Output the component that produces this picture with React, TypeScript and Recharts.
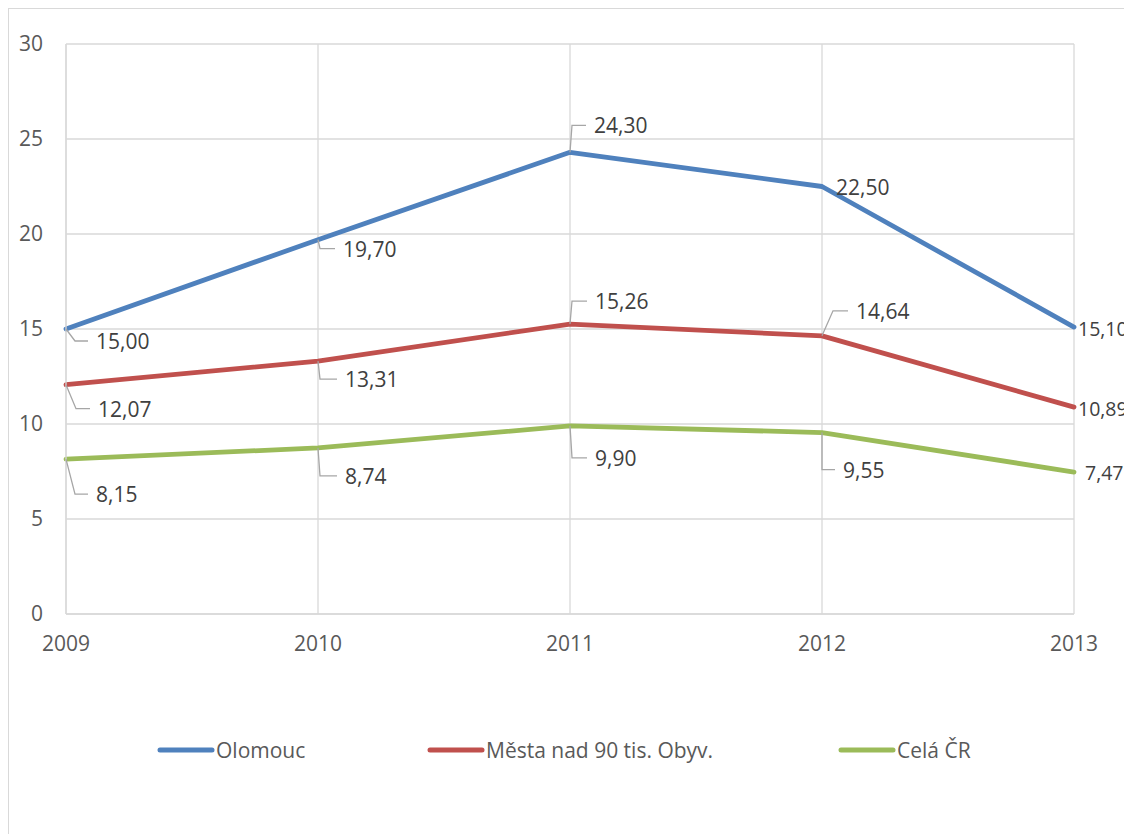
import { CartesianGrid, Line, LineChart, XAxis, YAxis } from "recharts";

const years = ["2009", "2010", "2011", "2012", "2013"];
const olomouc = [15.0, 19.7, 24.3, 22.5, 15.1];
const mesta = [12.07, 13.31, 15.26, 14.64, 10.89];
const celaCR = [8.15, 8.74, 9.9, 9.55, 7.47];
const yTicks = [0, 5, 10, 15, 20, 25, 30];

const SERIES = [
  { key: "olomouc", name: "Olomouc", color: "#4f81bd", values: olomouc },
  { key: "mesta", name: "Města nad 90 tis. Obyv.", color: "#c0504d", values: mesta },
  { key: "cela", name: "Celá ČR", color: "#9bbb59", values: celaCR },
];

// label placement per point: [dx, dy, elbowDx] ; elbowDx null = no leader line
const LABEL_POS: [number, number, number | null][][] = [
  [[30, 12, 9], [25, 9, 2], [24, -27, 2], [14, 0, null], [4, 1, null]],
  [[32, 24, 10], [27, 18, 2], [25, -23, 2], [34, -25, 11], [4, 1, null]],
  [[30, 35, 9], [27, 28, 2], [25, 32, 2], [21, 37, 0], [11, 0, null]],
];

const data = years.map((y, i) => ({
  year: y,
  olomouc: olomouc[i],
  mesta: mesta[i],
  cela: celaCR[i],
}));

const FONT = "'Open Sans', sans-serif";

const fmt = (v: number) => v.toFixed(2).replace(".", ",");

function makeLabel(si: number) {
  return (p: any) => {
    const { x, y, value, index } = p;
    const [dx, dy, elbow] = LABEL_POS[si][index];
    const tx = x + dx;
    const ty = y + dy;
    // last column sits at the chart edge, keep it a touch smaller so it fits
    const size = index === years.length - 1 ? 19.5 : 21;
    return (
      <g key={`lbl-${si}-${index}`}>
        {elbow !== null && (
          <polyline
            points={`${x},${y} ${x + elbow},${ty} ${tx - 8},${ty}`}
            fill="none"
            stroke="#a6a6a6"
            strokeWidth={1.3}
          />
        )}
        <text
          x={tx}
          y={ty}
          dominantBaseline="central"
          fontSize={size}
          fontFamily={FONT}
          fill="#404040"
        >
          {fmt(value)}
        </text>
      </g>
    );
  };
}

const LEGEND_X = [157, 427, 838];

export default function App() {
  return (
    <div style={{ position: "relative", width: 1124, height: 826, overflow: "hidden", fontFamily: FONT }}>
      <div
        style={{
          position: "absolute",
          left: 0,
          top: 0,
          width: 1200,
          height: 900,
          border: "1px solid #d9d9d9",
        }}
      />
      <div style={{ position: "absolute", left: 0, top: 0 }}>
        <LineChart
          width={1124}
          height={826}
          data={data}
          margin={{ top: 36, right: 58, left: 8, bottom: 180 }}
        >
          <CartesianGrid stroke="#d9d9d9" strokeWidth={1.3} />
          <XAxis
            dataKey="year"
            height={40}
            tickLine={false}
            tickSize={0}
            tickMargin={22}
            axisLine={{ stroke: "#d9d9d9", strokeWidth: 1.3 }}
            tick={{ fontSize: 21, fill: "#595959", fontFamily: FONT }}
            interval={0}
          />
          <YAxis
            width={50}
            domain={[0, 30]}
            ticks={yTicks}
            tickLine={false}
            tickSize={0}
            tickMargin={23}
            axisLine={{ stroke: "#d9d9d9", strokeWidth: 1.3 }}
            tick={{ fontSize: 21, fill: "#595959", fontFamily: FONT }}
          />
          {SERIES.map((s, si) => (
            <Line
              key={s.key}
              dataKey={s.key}
              name={s.name}
              type="linear"
              stroke={s.color}
              strokeWidth={4.8}
              strokeLinecap="round"
              strokeLinejoin="round"
              dot={false}
              activeDot={false}
              isAnimationActive={false}
              label={makeLabel(si)}
            />
          ))}
        </LineChart>
      </div>
      {SERIES.map((s, i) => (
        <div
          key={s.key}
          style={{
            position: "absolute",
            left: LEGEND_X[i] - 8,
            top: 750 - 8 - 15,
            height: 30,
            display: "flex",
            alignItems: "center",
            whiteSpace: "nowrap",
          }}
        >
          <svg width={58} height={10}>
            <line x1={3} y1={5} x2={55} y2={5} stroke={s.color} strokeWidth={5} strokeLinecap="round" />
          </svg>
          <span style={{ fontSize: 21, color: "#595959", marginLeft: 1 }}>{s.name}</span>
        </div>
      ))}
    </div>
  );
}
